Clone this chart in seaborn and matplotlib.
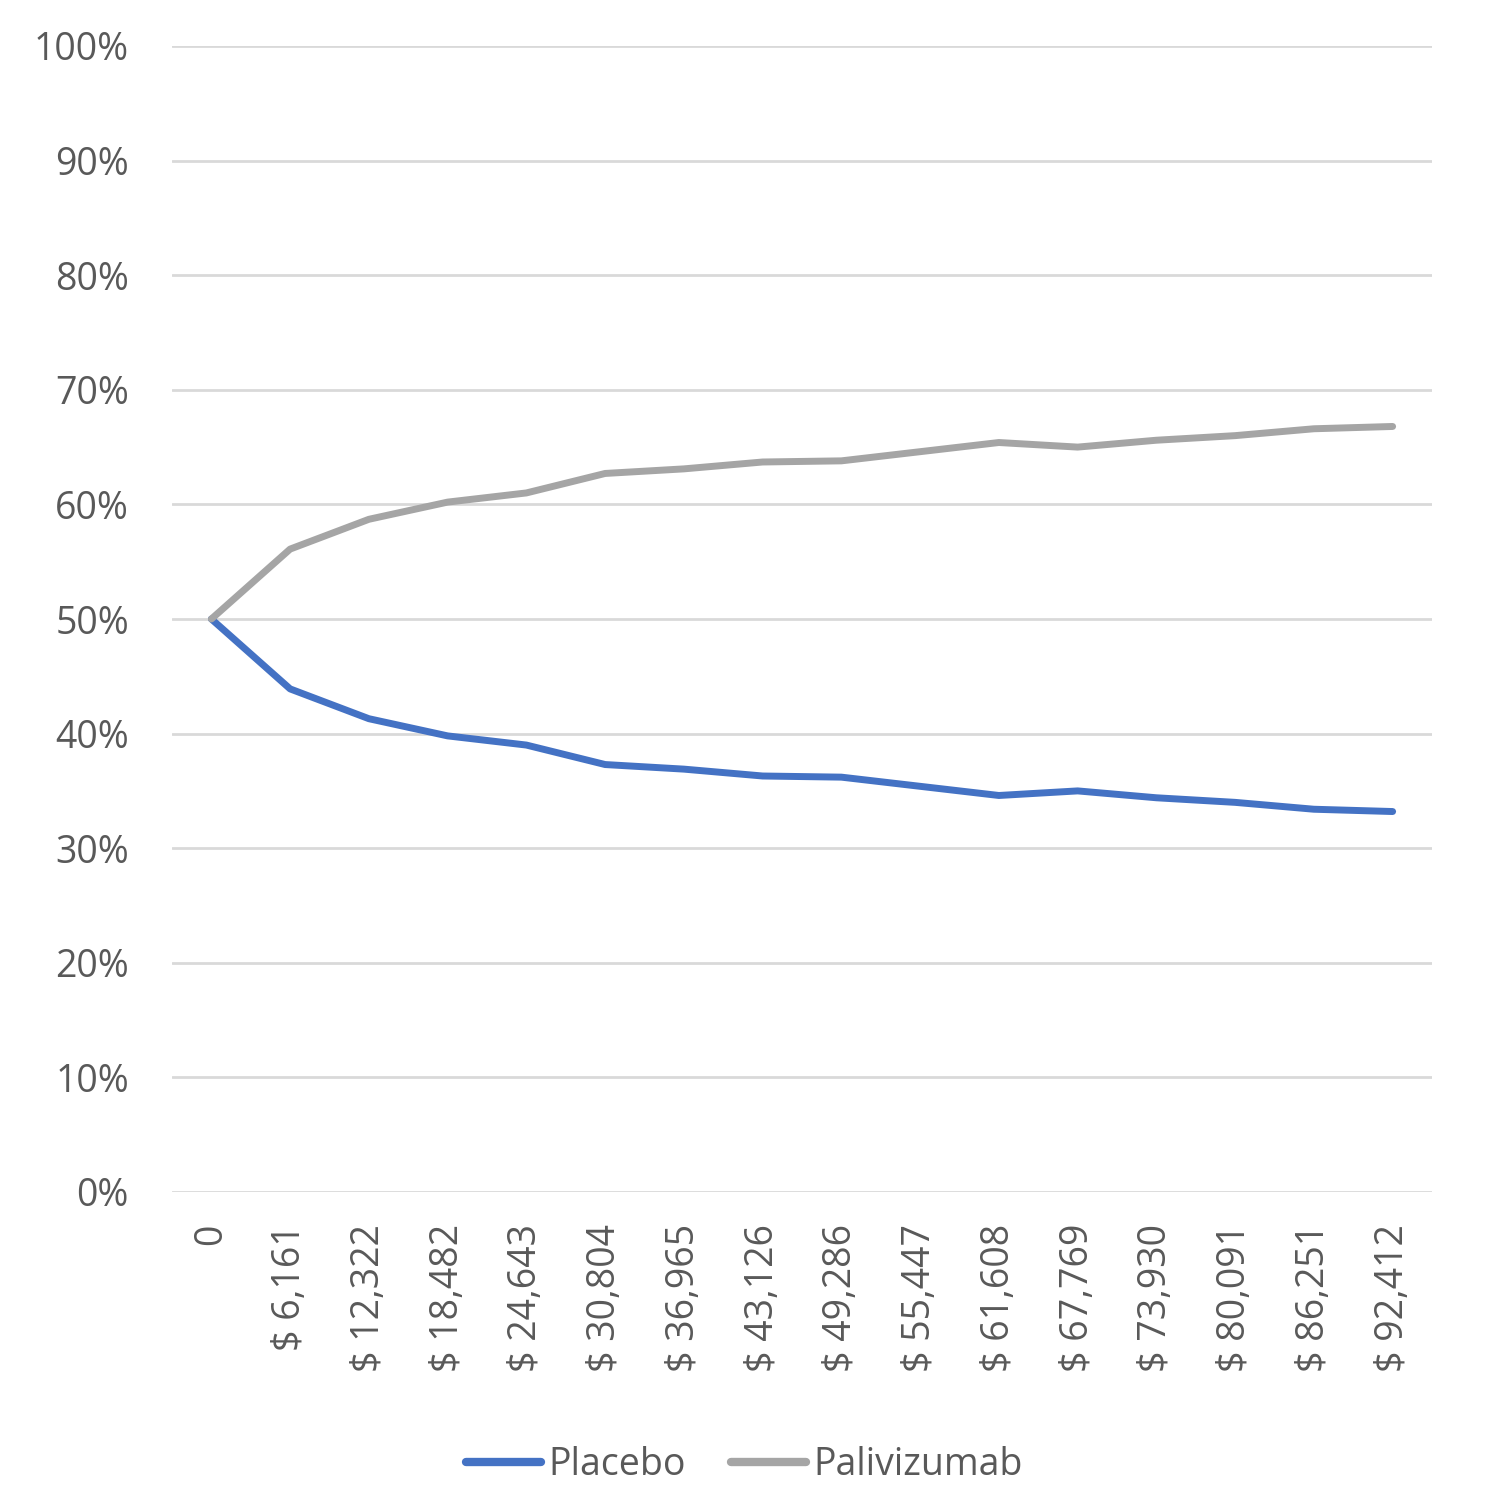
import pandas as pd
import matplotlib.pyplot as plt
from matplotlib.ticker import PercentFormatter
import seaborn as sns

# willingness-to-pay thresholds and probability cost-effective
thresholds = ["0", "$ 6,161", "$ 12,322", "$ 18,482", "$ 24,643", "$ 30,804",
              "$ 36,965", "$ 43,126", "$ 49,286", "$ 55,447", "$ 61,608",
              "$ 67,769", "$ 73,930", "$ 80,091", "$ 86,251", "$ 92,412"]
placebo = [50.0, 43.9, 41.3, 39.8, 39.0, 37.3, 36.9, 36.3, 36.2, 35.4, 34.6,
           35.0, 34.4, 34.0, 33.4, 33.2]
palivizumab = [50.0, 56.1, 58.7, 60.2, 61.0, 62.7, 63.1, 63.7, 63.8, 64.6, 65.4,
               65.0, 65.6, 66.0, 66.6, 66.8]

df = pd.DataFrame({"threshold": thresholds * 2,
                   "prob": placebo + palivizumab,
                   "arm": ["Placebo"] * 16 + ["Palivizumab"] * 16})

sns.set_style("white")
plt.rcParams["font.family"] = ["Open Sans", "DejaVu Sans"]
txt = "#595959"

fig = plt.figure(figsize=(14.88, 15.11), dpi=100)
ax = fig.add_axes([172 / 1488, 1 - 1192 / 1511, 1260 / 1488, 1146 / 1511])

sns.lineplot(data=df, x="threshold", y="prob", hue="arm", sort=False,
             palette={"Placebo": "#4472C4", "Palivizumab": "#A5A5A5"},
             linewidth=5, ax=ax, legend=False)
for ln in ax.lines:
    ln.set_solid_capstyle("round")

ax.set_xlim(-0.5, 15.5)
ax.set_ylim(0, 100)
ax.set_yticks(range(0, 101, 10))
ax.yaxis.set_major_formatter(PercentFormatter(decimals=0))
ax.grid(axis="y", color="#d9d9d9", linewidth=2)
ax.set_axisbelow(True)
for s in ax.spines.values():
    s.set_visible(False)
ax.set_xlabel("")
ax.set_ylabel("")
ax.tick_params(axis="y", length=0, pad=31, labelsize=27, labelcolor=txt)
ax.tick_params(axis="x", length=0, pad=23, labelsize=27, labelcolor=txt,
               labelrotation=90)

handles = [plt.Line2D([], [], color="#4472C4", lw=6, solid_capstyle="round"),
           plt.Line2D([], [], color="#A5A5A5", lw=6, solid_capstyle="round")]
fig.legend(handles, ["Placebo", "Palivizumab"], loc="center",
           bbox_to_anchor=(0.5, 1 - 1465 / 1511), ncol=2, frameon=False,
           fontsize=27, labelcolor=txt, handlelength=2.0, handletextpad=0.2,
           columnspacing=1.2)

fig.savefig("out.png", dpi=100, facecolor="white")
